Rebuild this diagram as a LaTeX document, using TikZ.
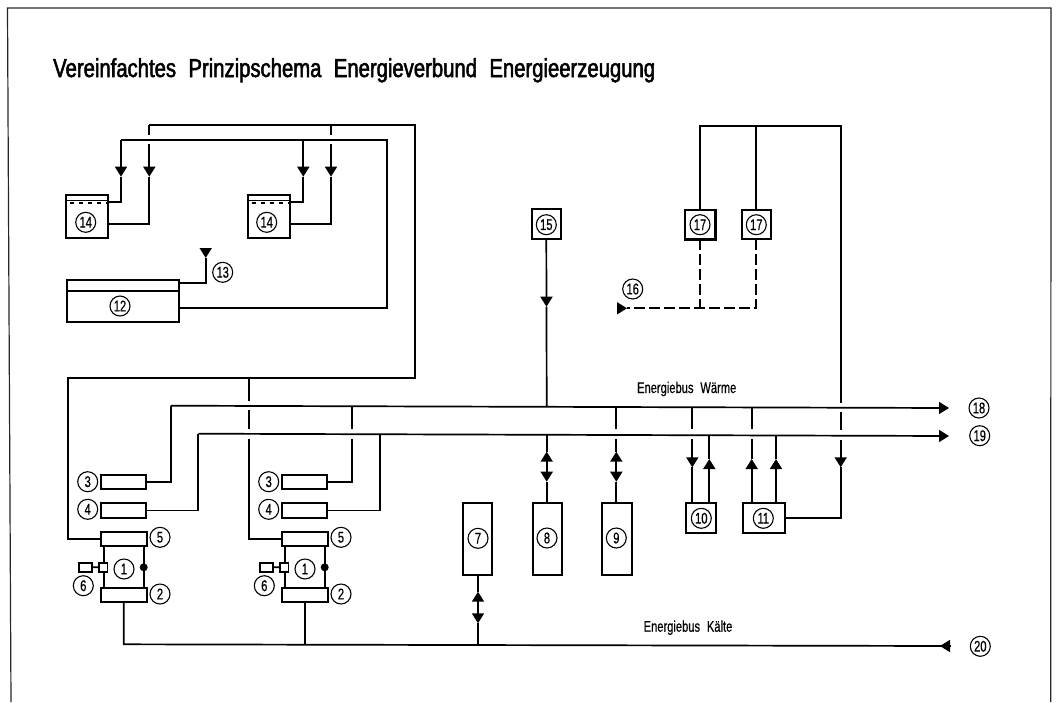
\documentclass[tikz,border=0pt]{standalone}
\usepackage{fontspec}
\setmainfont{Liberation Sans}[FakeStretch=0.72,WordSpace=2.2,FakeBold=0.6]
\newfontfamily\titlefont{Liberation Sans}[FakeStretch=0.78,WordSpace=2.2,FakeBold=2]
\usetikzlibrary{arrows.meta}
\tikzset{
  x=1pt,y=-1pt,
  pbox/.style={draw,line width=2pt,inner sep=0pt,outer sep=0pt},
  num/.style={draw,circle,line width=1.1pt,minimum size=20pt,inner sep=0pt,font=\fontsize{15.5}{15.5}\selectfont},
  conn/.style={line width=1.7pt,line join=miter},
  dashconn/.style={line width=1.7pt,dash pattern=on 11pt off 4pt},
  flow/.style={line width=1.7pt,-{Triangle[length=10pt,width=12pt]}},
  label/.style={inner sep=0pt,font=\fontsize{15.5}{15.5}\selectfont},
  frameline/.style={line width=1.2pt,black!85}
}
\begin{document}
\begin{tikzpicture}
\useasboundingbox (0,0) rectangle (1056,702);
% frame
\coordinate (f1) at (11,702);\coordinate (f2) at (7.5,8);\coordinate (f3) at (1051,8);\coordinate (f4) at (1050.7,702);
\draw[frameline] (f1) -- (f2) -- (f3) -- (f4);
\node[anchor=base west,inner sep=0pt,font=\titlefont\fontsize{26}{27}\selectfont] (title) at (53,77) {Vereinfachtes Prinzipschema Energieverbund Energieerzeugung};
% tanks
\node[pbox,minimum width=42.3pt,minimum height=43pt] (t14a) at (87.2,216.5) {};
\node[pbox,minimum width=42.3pt,minimum height=43pt] (t14b) at (268.7,216.5) {};
\foreach \t in {t14a,t14b}{
  \draw[line width=1.5pt] (\t.west|-0,200.5) -- (\t.east|-0,200.5);
  \draw[line width=2.2pt,dash pattern=on 4pt off 5pt] ([xshift=4pt]\t.west|-0,203) -- ([xshift=-2pt]\t.east|-0,203);
}
\node[num] (n14a) at (85.7,222.3) {14};
\node[num] (n14b) at (266.7,222.3) {14};
\node[pbox,minimum width=112.3pt,minimum height=42pt] (t12) at (122.8,301) {};
\draw[line width=1.7pt] (t12.west|-0,290.7) -- (t12.east|-0,290.7);
\node[num] (n12) at (120,306) {12};
\node[num] (n13) at (222.7,272.3) {13};
% rails at the top left
\coordinate (a0) at (149.3,125.3);\coordinate (a1) at (415,125.3);\coordinate (a2) at (415,377.7);\coordinate (a3) at (68.3,377.7);
\coordinate (b0) at (121,140);\coordinate (b1) at (386.7,140);\coordinate (b2) at (386.7,307.7);
\coordinate (ab) at (331,125.3);\coordinate (bb) at (303.3,140);
\coordinate (d1) at (248.7,377.7);
% units
\foreach \u/\d in {a/0,b/181}{
  \begin{scope}[xshift=\d pt]
  \node[pbox,minimum width=40pt,minimum height=42.6pt] (body\u) at (124,567) {};
  \node[pbox,minimum width=45.5pt,minimum height=14.3pt] (b3\u) at (123.5,482.2) {};
  \node[pbox,minimum width=45.5pt,minimum height=14.3pt] (b4\u) at (123.5,510.5) {};
  \node[pbox,minimum width=46pt,minimum height=14pt,fill=white] (b5\u) at (123.7,538.7) {};
  \node[pbox,minimum width=46pt,minimum height=14pt,fill=white] (b2\u) at (124,595.3) {};
  \node[draw,line width=1.6pt,fill=white,minimum width=8.3pt,minimum height=9pt,inner sep=0pt,outer sep=0pt] (sq\u) at (103.2,567.2) {};
  \node[draw,line width=1.8pt,minimum width=12.4pt,minimum height=9.3pt,inner sep=0pt,outer sep=0pt] (sr\u) at (85.5,567.3) {};
  \draw[conn] (sr\u) -- (sq\u);
  \node[circle,fill=black,minimum size=8pt,inner sep=0pt] (dot\u) at (143.7,567.3) {};
  \node[num] (n1\u) at (124,569) {1};
  \node[num] (n2\u) at (160,594) {2};
  \node[num] (n3\u) at (87.7,481.7) {3};
  \node[num] (n4\u) at (87.7,509.3) {4};
  \node[num] (n5\u) at (160,537.3) {5};
  \node[num] (n6\u) at (83.3,585.7) {6};
  \end{scope}
}
% tank arrows
\coordinate (r1t) at (121,176.7);\coordinate (r1k) at (121,201.7);
\coordinate (r2g) at (149.3,135);\coordinate (r2h) at (149.3,143.5);\coordinate (r2t) at (149.3,176.7);\coordinate (r2k) at (149.3,224);
\coordinate (r3t) at (303.3,176.7);\coordinate (r3k) at (303.3,201.7);
\coordinate (r4g) at (331,135);\coordinate (r4h) at (331,143.5);\coordinate (r4t) at (331,176.7);\coordinate (r4k) at (331,224);
\draw[conn] (a0) -- (a1) -- (a2) -- (a3) |- (b5a.west);
\draw[conn] (b0) -- (b1) -- (b2) -- (t12.east|-b2);
\draw[conn] (a0) -- (r2g);
\draw[conn] (ab) -- (r4g);
\draw[flow] (b0) -- (r1t);\draw[conn] (r1t) -- (r1k) -- (t14a.east|-r1k);
\draw[flow] (r2h) -- (r2t);\draw[conn] (r2t) -- (r2k) -- (t14a.east|-r2k);
\draw[flow] (bb) -- (r3t);\draw[conn] (r3t) -- (r3k) -- (t14b.east|-r3k);
\draw[flow] (r4h) -- (r4t);\draw[conn] (r4t) -- (r4k) -- (t14b.east|-r4k);
% 13
\coordinate (e1) at (205.7,283.3);\coordinate (e2) at (205.7,258);\coordinate (e3) at (205.7,248);
\draw[conn] (t12.east|-e1) -- (e1) -- (e2);
\draw[flow] (e3) -- (e2);
% second feed
\coordinate (d2) at (248.7,400.7);\coordinate (d3) at (248.7,410);\coordinate (d4) at (248.7,429);\coordinate (d5) at (248.7,439);
\draw[conn] (d1) -- (d2);
\draw[conn] (d3) -- (d4);
\draw[conn] (d5) |- (b5b.west);
% busses
\coordinate (s18) at (170.7,405.7);\coordinate (e18) at (949,408);
\coordinate (s19) at (198.3,433.7);\coordinate (e19) at (949,436);
\draw[conn] (b3a.east) -| (s18);
\draw[conn] (b4a.east) -| (s19);
\draw[flow] (s18) -- (e18);
\draw[flow] (s19) -- (e19);
\coordinate (u3a) at (352.3,406);\coordinate (u3b) at (352.3,429);\coordinate (u3c) at (352.3,439);
\draw[conn] (u3a) -- (u3b);
\draw[conn] (u3c) |- (b3b.east);
\coordinate (u4) at (380,434);
\draw[conn] (u4) |- (b4b.east);
% cold bus
\coordinate (k0) at (123.7,644.3);\coordinate (k1) at (305.3,645);\coordinate (k2) at (478,645.3);\coordinate (k3) at (950,646);\coordinate (k4) at (940,646);
\draw[conn] (b2a.south-|k0) -- (k0) -- (k3);
\draw[conn] (b2b.south-|k1) -- (k1);
\draw[flow] (k3) -- (k4);
% equipment
\node[pbox,minimum width=29.3pt,minimum height=71.7pt] (b7) at (477.3,539.2) {};
\node[pbox,minimum width=29pt,minimum height=71.7pt] (b8) at (547.2,539.2) {};
\node[pbox,minimum width=30pt,minimum height=71.7pt] (b9) at (616.7,539.2) {};
\node[pbox,minimum width=30pt,minimum height=29.4pt] (b10) at (701,518) {};
\node[pbox,minimum width=42.3pt,minimum height=29.7pt] (b11) at (763.9,518) {};
\node[pbox,minimum width=29.3pt,minimum height=29.7pt] (b15) at (546.3,224.2) {};
\node[pbox,minimum width=30.7pt,minimum height=29.3pt,line width=2.4pt] (b17a) at (700.3,224.7) {};
\node[pbox,minimum width=29pt,minimum height=29.3pt] (b17b) at (756.2,224.7) {};
\node[num] (n7) at (478,538.3) {7};
\node[num] (n8) at (547,538) {8};
\node[num] (n9) at (616.3,538) {9};
\node[num] (n10) at (701.3,518.3) {10};
\node[num] (n11) at (763.3,518.3) {11};
\node[num] (n15) at (546.3,224.7) {15};
\node[num] (n17a) at (700,224.7) {17};
\node[num] (n17b) at (756.3,224.7) {17};
\node[num] (n16) at (632.7,289) {16};
\node[num] (n18) at (979,408) {18};
\node[num] (n19) at (979.7,435.7) {19};
\node[num] (n20) at (980.3,646.3) {20};
\node[label] (lw) at (686.7,389) {Energiebus Wärme};
\node[label] (lk) at (688,627.7) {Energiebus Kälte};
% 15
\coordinate (c15t) at (546.5,306.7);\coordinate (c15b) at (546.7,406.6);
\draw[flow] (b15.south) -- (c15t);
\draw[conn] (c15t) -- (c15b);
% 7
\coordinate (c7u) at (478,591.7);\coordinate (c7m) at (478,607.5);\coordinate (c7d) at (478,623.3);
\draw[conn] (b7.south-|c7m) -- (c7u);
\draw[flow] (c7m) -- (c7u);\draw[flow] (c7m) -- (c7d);
\draw[conn] (c7d) -- (k2);
% 8
\coordinate (c8t) at (546.7,434.8);\coordinate (c8u) at (546.7,451.7);\coordinate (c8m) at (546.7,467);\coordinate (c8d) at (546.7,481.7);
\draw[conn] (c8t) -- (c8u);
\draw[flow] (c8m) -- (c8u);\draw[flow] (c8m) -- (c8d);
\draw[conn] (c8d) -- (b8.north-|c8d);
% 9
\coordinate (c9t) at (616.3,406.8);\coordinate (c9g) at (616.3,429);\coordinate (c9h) at (616.3,439);\coordinate (c9u) at (616.3,451.7);\coordinate (c9m) at (616.3,467);\coordinate (c9d) at (616.3,481.7);
\draw[conn] (c9t) -- (c9g);
\draw[conn] (c9h) -- (c9u);
\draw[flow] (c9m) -- (c9u);\draw[flow] (c9m) -- (c9d);
\draw[conn] (c9d) -- (b9.north-|c9d);
% 10
\coordinate (c10t) at (692.3,407);\coordinate (c10g) at (692.3,429);\coordinate (c10h) at (692.3,439);\coordinate (c10d) at (692.3,467.3);
\draw[conn] (c10t) -- (c10g);
\draw[flow] (c10h) -- (c10d);
\draw[conn] (c10d) -- (b10.north-|c10d);
\coordinate (c10v) at (709.3,435.2);\coordinate (c10u) at (709.3,459);
\draw[flow] (b10.north-|c10u) -- (c10u);
\draw[conn] (c10u) -- (c10v);
% 11
\coordinate (c11t) at (751.7,407.2);\coordinate (c11g) at (751.7,429);\coordinate (c11h) at (751.7,439);\coordinate (c11u) at (751.7,459);
\draw[conn] (c11t) -- (c11g);
\draw[conn] (c11h) -- (c11u);
\draw[flow] (b11.north-|c11u) -- (c11u);
\coordinate (c11v) at (776,435.4);\coordinate (c11w) at (776,459);
\draw[flow] (b11.north-|c11w) -- (c11w);
\draw[conn] (c11w) -- (c11v);
% right riser
\coordinate (z0) at (840.7,125.7);\coordinate (z1) at (840.7,403);\coordinate (z2) at (840.7,412);\coordinate (z3) at (840.7,430);\coordinate (z4) at (840.7,440);\coordinate (z5) at (840.7,467.3);\coordinate (z6) at (840.7,518.3);
\draw[conn] (b17a.north) |- (z0) -- (z1);
\draw[conn] (b17b.north) -- (b17b.north|-z0);
\draw[conn] (z2) -- (z3);
\draw[flow] (z4) -- (z5);
\draw[conn] (z5) -- (z6) -- (b11.east|-z6);
% 16 dashed
\coordinate (g0) at (627,308.3);\coordinate (g1) at (617,308.3);
\draw[dashconn] (b17b.south) |- (g0);
\draw[dashconn] (b17a.south) -- (b17a.south|-g0);
\draw[flow] (g1) -- (g0);
\end{tikzpicture}
\end{document}
